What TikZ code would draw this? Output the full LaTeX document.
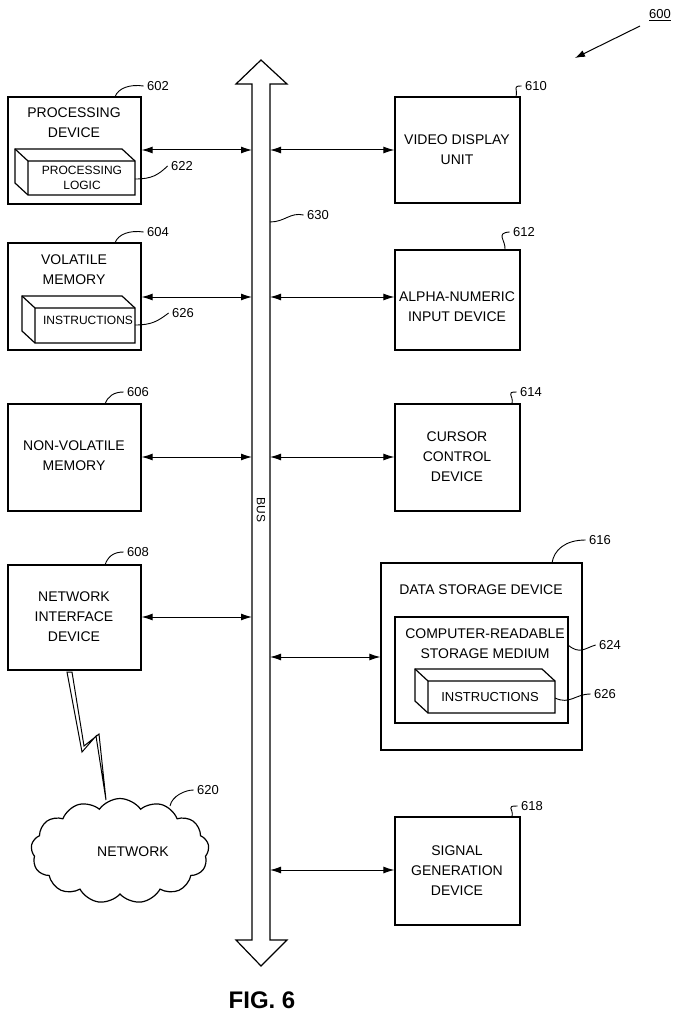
\documentclass[tikz,border=0pt]{standalone}
\usepackage{fontspec}
\setmainfont{Liberation Sans}
\usetikzlibrary{shapes.symbols,arrows.meta}
\begin{document}
\begin{tikzpicture}[x=1pt,y=-1pt,
  box/.style={draw,line width=1.2pt,inner sep=0pt},
  txt/.style={font=\fontsize{14}{20}\selectfont,align=center},
  lbl/.style={font=\fontsize{13}{15}\selectfont},
  conn/.style={line width=1pt,{Latex[length=11pt,width=7pt]}-{Latex[length=11pt,width=7pt]}},
  lead/.style={line width=0.9pt}]
\useasboundingbox (0,0) rectangle (680,1024);
% bus
\draw[line width=1.2pt,fill=white] (252,940) -- (252,84) -- (236,84) -- (261,60) -- (287,84) -- (270,84) -- (270,940) -- (287,940) -- (261,966) -- (236,940) -- cycle;
\node[txt,rotate=-90,font=\fontsize{12}{14}\selectfont] (bus) at (261,510) {BUS};
\node[lbl] (l630) at (318,215) {630};
\draw[lead] (270,222) .. controls (285,222) and (290,212) .. (l630.west);
% 600
\node[lbl] (l600) at (660,15) {\underline{600}};
\coordinate (c600) at (575,58);
\draw[line width=1pt,-{Latex[length=10pt,width=7pt]}] (640,26) -- (c600);
% helper cube
\newcommand\mycube[5]{% x1 y1 x2 y2 text ; front face
  \draw[line width=1.2pt,fill=white] (#1-13,#2-12) -- (#3-13,#2-12) -- (#3,#2) -- (#3,#4) -- (#1,#4) -- (#1-13,#4-12) -- cycle;
  \draw[line width=1.2pt] (#1-13,#2-12) -- (#1,#2) -- (#3,#2) (#1,#2) -- (#1,#4);
}
% 602
\node[box,minimum width=133pt,minimum height=107pt] (b602) at (74.5,150.5) {};
\node[txt] (t602) at (74,123) {PROCESSING\\DEVICE};
\mycube{28}{161}{135}{195}{}
\node[txt,font=\fontsize{12}{15}\selectfont] (t622) at (82,178) {PROCESSING\\LOGIC};
\node[lbl] (l602) at (158,86) {602};
\draw[lead] (115,97) .. controls (118,88) and (130,84) .. (l602.west);
\node[lbl] (l622) at (182,166) {622};
\draw[lead] (135,179) .. controls (152,179) and (158,175) .. (l622.west);
% 604
\node[box,minimum width=133pt,minimum height=107pt] (b604) at (74.5,296.5) {};
\node[txt] (t604) at (74,270) {VOLATILE\\MEMORY};
\mycube{35}{308}{135}{343}{}
\node[txt,font=\fontsize{12}{15}\selectfont] (t626a) at (88,320) {INSTRUCTIONS};
\node[lbl] (l604) at (158,232) {604};
\draw[lead] (115,243) .. controls (118,234) and (130,230) .. (l604.west);
\node[lbl] (l626a) at (183,313) {626};
\draw[lead] (135,325) .. controls (152,325) and (158,321) .. (l626a.west);
% 606
\node[box,minimum width=133pt,minimum height=107pt] (b606) at (74.5,457.5) {};
\node[txt] (t606) at (74,456) {NON-VOLATILE\\MEMORY};
\node[lbl] (l606) at (138,392) {606};
\draw[lead] (105,404) .. controls (108,396) and (114,392) .. (l606.west);
% 608
\node[box,minimum width=133pt,minimum height=105pt] (b608) at (74.5,617.5) {};
\node[txt] (t608) at (74,617) {NETWORK\\INTERFACE\\DEVICE};
\node[lbl] (l608) at (138,552) {608};
\draw[lead] (105,565) .. controls (108,556) and (114,552) .. (l608.west);
% cloud
\node[cloud,draw,line width=1.2pt,cloud puffs=13,cloud puff arc=110,aspect=1.7,minimum width=178pt,minimum height=105pt] (net) at (120,851) {};
\node[txt] (tnet) at (133,852) {NETWORK};
\node[lbl] (l620) at (208,790) {620};
\draw[lead] (170,806) .. controls (172,796) and (185,790) .. (l620.west);
\draw[line width=1pt,fill=white] (67,672) -- (82,752) -- (96,736) -- (106,800) -- (99,734) -- (84,746) -- (72,672) -- cycle;
% right
\node[box,minimum width=125pt,minimum height=106pt] (b610) at (457.5,150) {};
\node[txt] (t610) at (457,150) {VIDEO DISPLAY\\UNIT};
\node[lbl] (l610) at (536,86) {610};
\draw[lead] (516,97) .. controls (518,88) and (512,86) .. (l610.west);
\node[box,minimum width=125pt,minimum height=100pt] (b612) at (457.5,300) {};
\node[txt] (t612) at (457,307) {ALPHA-NUMERIC\\INPUT DEVICE};
\node[lbl] (l612) at (524,232) {612};
\draw[lead] (505,250) .. controls (506,240) and (495,233) .. (l612.west);
\node[box,minimum width=125pt,minimum height=107pt] (b614) at (457.5,457.5) {};
\node[txt] (t614) at (457,457) {CURSOR\\CONTROL\\DEVICE};
\node[lbl] (l614) at (531,392) {614};
\draw[lead] (512,404) .. controls (514,395) and (505,392) .. (l614.west);
\node[box,minimum width=201pt,minimum height=187pt] (b616) at (481.5,656.5) {};
\node[txt] (t616) at (481,590) {DATA STORAGE DEVICE};
\node[lbl] (l616) at (600,540) {616};
\draw[lead] (552,563) .. controls (554,550) and (565,540) .. (l616.west);
\node[box,minimum width=173pt,minimum height=106pt] (b624) at (481.5,670) {};
\node[txt] (t624) at (485,644) {COMPUTER-READABLE\\STORAGE MEDIUM};
\mycube{428}{681}{555}{713}{}
\node[txt,font=\fontsize{13}{15}\selectfont] (t626b) at (490,697) {INSTRUCTIONS};
\node[lbl] (l624) at (610,645) {624};
\draw[lead] (568,645) .. controls (580,655) and (585,648) .. (l624.west);
\node[lbl] (l626b) at (605,694) {626};
\draw[lead] (555,698) .. controls (570,705) and (575,694) .. (l626b.west);
\node[box,minimum width=125pt,minimum height=108pt] (b618) at (457.5,871) {};
\node[txt] (t618) at (457,871) {SIGNAL\\GENERATION\\DEVICE};
\node[lbl] (l618) at (532,806) {618};
\draw[lead] (512,817) .. controls (514,808) and (505,806) .. (l618.west);
% bus connection points
\foreach \n/\y in {a/150,b/297,c/457,d/617}{\coordinate (bl\n) at (252,\y);}
\foreach \n/\y in {a/150,b/297,c/457,e/657,f/870}{\coordinate (br\n) at (270,\y);}
\draw[conn] (b602.east |- bla) -- (bla);
\draw[conn] (b604.east |- blb) -- (blb);
\draw[conn] (b606.east |- blc) -- (blc);
\draw[conn] (b608.east |- bld) -- (bld);
\draw[conn] (bra) -- (b610.west |- bra);
\draw[conn] (brb) -- (b612.west |- brb);
\draw[conn] (brc) -- (b614.west |- brc);
\draw[conn] (bre) -- (b616.west |- bre);
\draw[conn] (brf) -- (b618.west |- brf);
\node[font=\bfseries\fontsize{24}{28}\selectfont] (fig) at (262,1000) {FIG. 6};
\end{tikzpicture}
\end{document}
